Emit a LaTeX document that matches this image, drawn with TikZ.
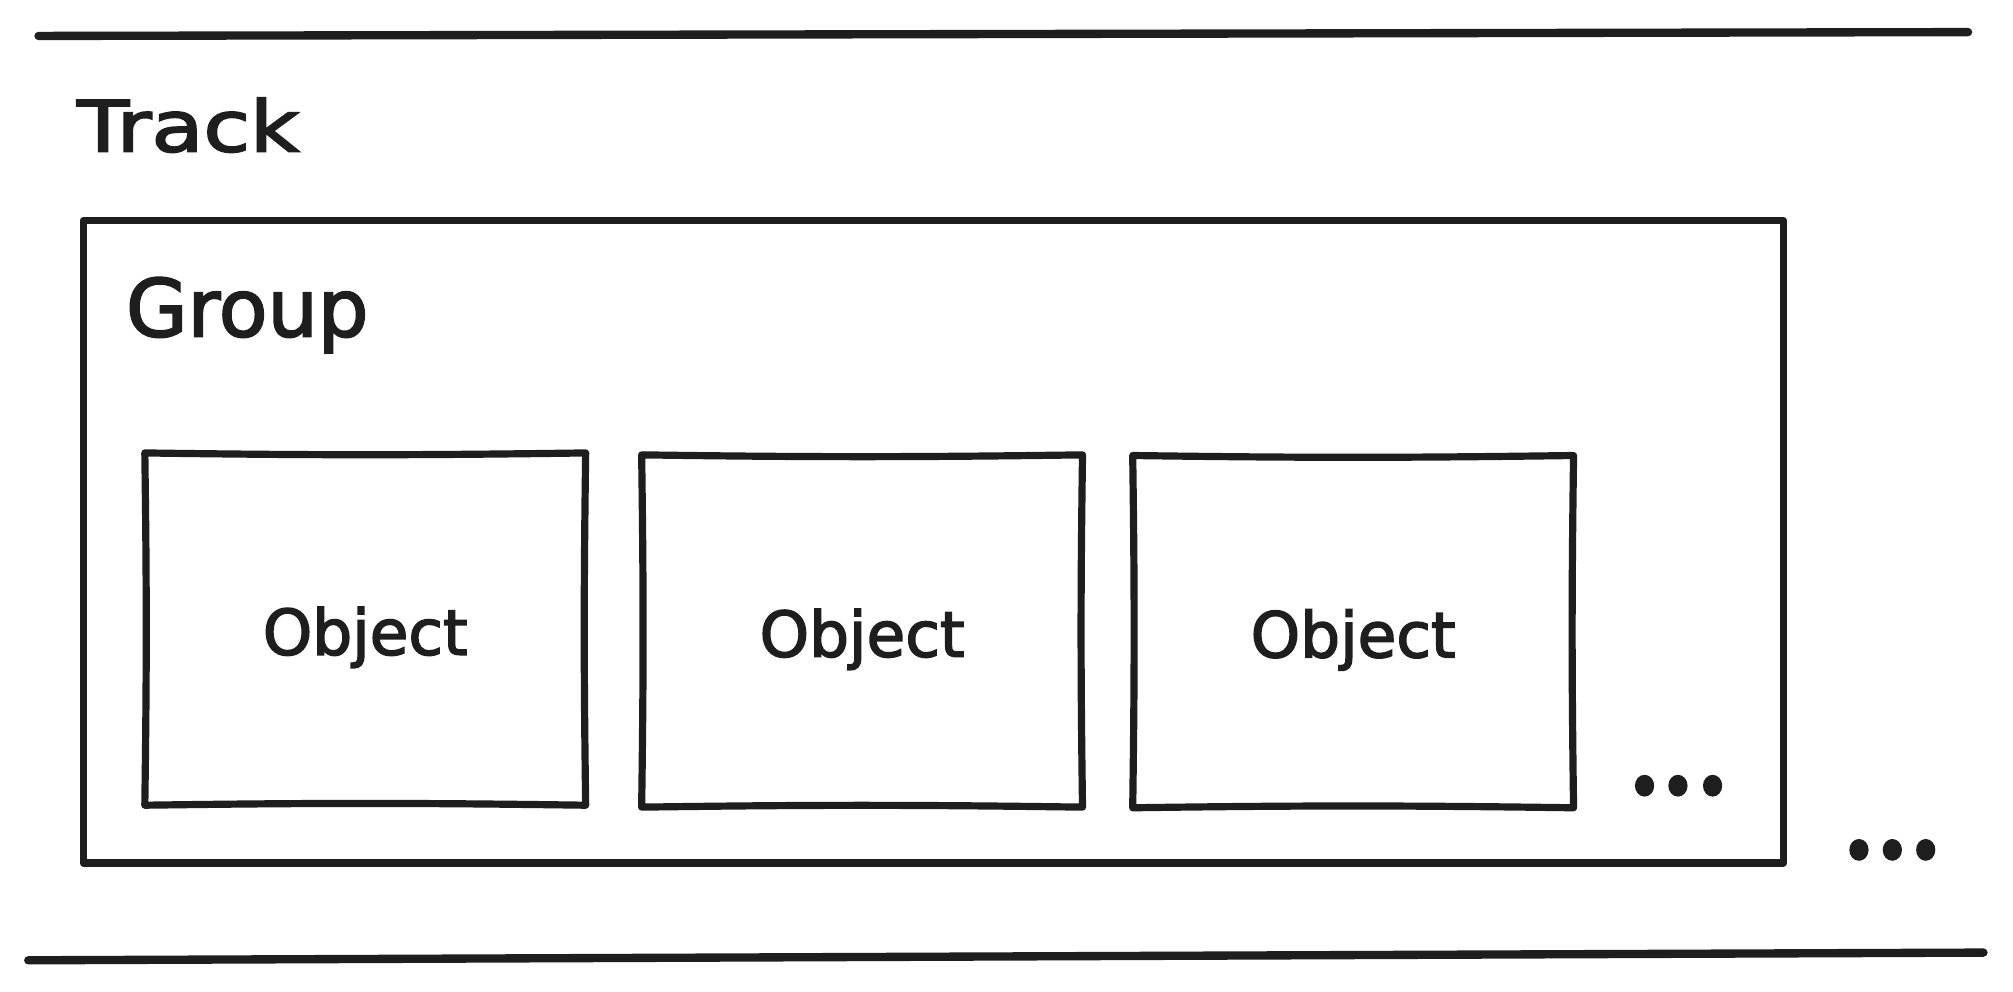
\documentclass[tikz,border=0pt]{standalone}
\usepackage{fontspec}
\usetikzlibrary{shapes.geometric}
\setmainfont[FakeBold=2.5]{DejaVu Sans}
\definecolor{ink}{HTML}{1E1E1E}
\begin{document}
\begin{tikzpicture}[x=1pt,y=-1pt,
  rule/.style={draw=ink,line width=6.5pt,line cap=round},
  groupbox/.style={minimum width=1324pt,minimum height=500pt,inner sep=0pt},
  objbox/.style={minimum width=343pt,minimum height=274pt,inner sep=0pt,
     text=ink,font=\fontsize{49}{49}\selectfont},
  outline/.style={draw=ink,line width=#1,line join=round,line cap=round},
  lbl/.style={anchor=base west,inner sep=0pt,text=ink},
  dot/.style={fill=ink,ellipse,minimum width=15pt,minimum height=17pt,inner sep=0pt}]
\useasboundingbox[fill=white] (0,0) rectangle (1568,772);
% horizontal rules of the track
\coordinate (t1) at (30,28);
\coordinate (t2) at (1533,25);
\coordinate (b1) at (22,748);
\coordinate (b2) at (1545,742);
\draw[rule] (t1) -- (t2);
\draw[rule] (b1) -- (b2);
% labels
\node[lbl,font=\fontsize{55}{55}\selectfont] (track) at (60,118) {\scalebox{1.2}[1]{Track}};
% group
\node[groupbox] (group) at (727,422) {};
\draw[outline=5.6pt] (group.north west) -- (group.north east) -- (group.south east)
   -- (group.south west) -- cycle;
\node[lbl,font=\fontsize{62}{62}\selectfont] (grouplbl) at (98,262) {Group};
% objects
\node[objbox] (o1) at (284.5,490) {\raisebox{-20pt}[0pt][0pt]{Object}};
\node[objbox] (o2) at (671.5,491.5) {\raisebox{-20pt}[0pt][0pt]{Object}};
\node[objbox] (o3) at (1054,492) {\raisebox{-20pt}[0pt][0pt]{Object}};
\foreach \o in {o1,o2,o3}{
  \draw[outline=5.6pt] (\o.north west) to[bend right=0.8] (\o.north east)
     to[bend right=0.8] (\o.south east) to[bend right=0.8] (\o.south west)
     to[bend right=0.8] cycle;
}
% ellipses
\node[dot] (d1) at (1281,612) {};
\node[dot] (d2) at (1307,612) {};
\node[dot] (d3) at (1334,612) {};
\node[dot] (e1) at (1448,662) {};
\node[dot] (e2) at (1474,662) {};
\node[dot] (e3) at (1500,662) {};
\end{tikzpicture}
\end{document}
